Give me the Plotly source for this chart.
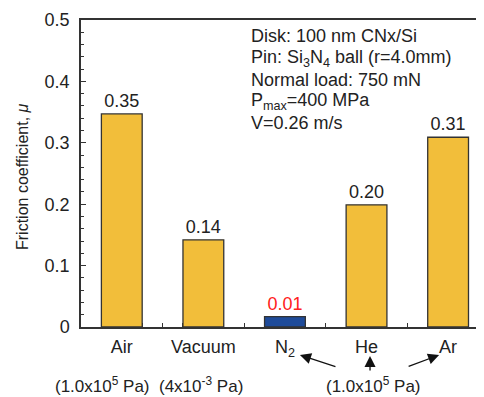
import plotly.graph_objects as go

categories = ["Air", "Vacuum", "N<sub>2</sub>", "He", "Ar"]
friction = [0.347, 0.142, 0.017, 0.199, 0.309]
value_labels = ["0.35", "0.14", "0.01", "0.20", "0.31"]
bar_colors = ["#F2BE3A", "#F2BE3A", "#1E4B9A", "#F2BE3A", "#F2BE3A"]
label_colors = ["#222222", "#222222", "#FF2020", "#222222", "#222222"]
pressures = ["(1.0x10<sup>5</sup> Pa)", "(4x10<sup>-3</sup> Pa)", "(1.0x10<sup>5</sup> Pa)"]
pressure_pos = [-0.24, 0.97, 3.08]
info_lines = ["Disk: 100 nm CNx/Si",
              "Pin: Si<sub>3</sub>N<sub>4</sub> ball (r=4.0mm)",
              "Normal load: 750 mN",
              "P<sub>max</sub>=400 MPa",
              "V=0.26 m/s"]

xs = list(range(len(categories)))
FONT = "Liberation Sans, Arial, sans-serif"
AX = "#333333"
FS = 18

# page body has an 8px margin; figure is sized to fit the window
def ypaper(py):
    return 1 - (py - 20) / 307.0

def xpaper(px):
    return (px - 81) / 403.0

fig = go.Figure()
fig.add_trace(go.Bar(
    x=xs, y=friction, width=0.5,
    marker=dict(color=bar_colors, line=dict(color=AX, width=1.3)),
    text=value_labels, textposition="outside",
    textfont=dict(size=FS, color=label_colors, family=FONT),
    cliponaxis=False,
))

annotations = []
for p, xp in zip(pressures, pressure_pos):
    annotations.append(dict(x=xp, y=ypaper(385), xref="x", yref="paper", text=p, showarrow=False,
                            yanchor="middle", font=dict(size=17, color="#222222", family=FONT)))

arrows = [(2.184, 355, 37, 12),
          (3.043, 356, 0, 16),
          (3.890, 355, -32, 12)]
for hx, hpy, axp, ayp in arrows:
    annotations.append(dict(x=hx, y=ypaper(hpy), ax=axp, ay=ayp, xref="x", yref="paper",
                            text="", showarrow=True, arrowhead=2, arrowsize=1.7, arrowwidth=1.3,
                            arrowcolor="#111111"))

line_centers = [36, 58.5, 80, 101.5, 123.5]
for txt, cy in zip(info_lines, line_centers):
    annotations.append(dict(x=xpaper(249), y=ypaper(cy), xref="paper", yref="paper",
                            xanchor="left", yanchor="middle", align="left", text=txt, showarrow=False,
                            font=dict(size=FS, color="#222222", family=FONT)))

annotations.append(dict(x=xpaper(22), y=ypaper(177), xref="paper", yref="paper",
                        text="Friction coefficient, <i>μ</i>", showarrow=False, textangle=-90,
                        xanchor="center", yanchor="middle",
                        font=dict(size=16, family=FONT, color="#222222")))

fig.update_layout(
    width=476, height=389,
    margin=dict(l=73, r=0, t=12, b=70),
    plot_bgcolor="white", paper_bgcolor="white",
    font=dict(family=FONT, size=FS, color="#222222"),
    showlegend=False,
    annotations=annotations,
    xaxis=dict(range=[-0.5, 4.44], tickmode="array", tickvals=xs, ticktext=categories,
               showline=True, linecolor=AX, linewidth=1.5, mirror=True,
               ticks="inside", ticklen=4, tickcolor=AX, showgrid=False, zeroline=False,
               minor=dict(dtick=0.25, tick0=-0.5, ticks="inside", ticklen=4, tickcolor=AX, showgrid=False),
               layer="below traces", tickfont=dict(size=FS, family=FONT), ticklabelstandoff=3),
    yaxis=dict(range=[0, 0.5], tickvals=[0, 0.1, 0.2, 0.3, 0.4, 0.5],
               ticktext=["0", "0.1", "0.2", "0.3", "0.4", "0.5"],
               showline=True, linecolor=AX, linewidth=1.5, mirror=False,
               ticks="inside", ticklen=5, tickcolor=AX, showgrid=False, zeroline=False,
               minor=dict(dtick=0.02, ticks="inside", ticklen=3, tickcolor=AX, showgrid=False),
               layer="below traces", tickfont=dict(size=FS, family=FONT), ticklabelstandoff=6),
)

fig.write_html("out.html")
